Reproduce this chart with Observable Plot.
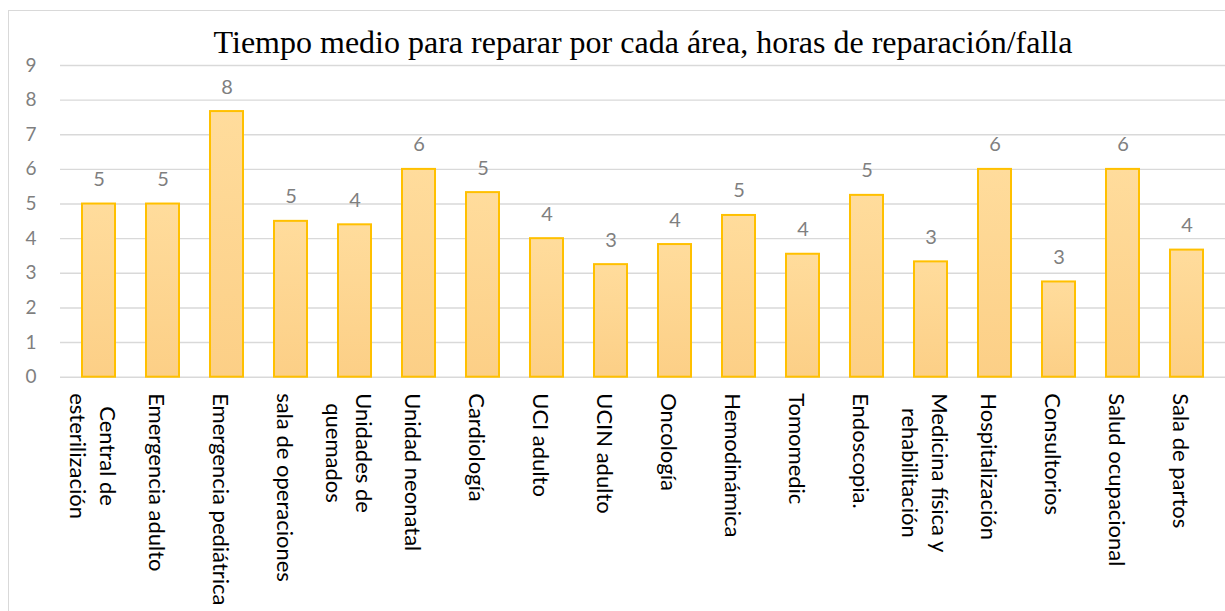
<!DOCTYPE html>
<html><head><meta charset="utf-8">
<script src="https://cdn.jsdelivr.net/npm/d3@7"></script>
<script src="https://cdn.jsdelivr.net/npm/@observablehq/plot@0.6"></script>
<style>
body{margin:0;background:#fff;width:1225px;height:611px;overflow:hidden;position:relative}
#frame{position:absolute;left:8px;top:10px;width:1300px;height:700px;border:1.5px solid #d9d9d9;box-sizing:border-box}
#title{position:relative;height:58px;box-sizing:border-box;padding-top:26px;padding-left:61px;text-align:center;font:32px/32px "Liberation Serif","Times New Roman",serif;color:#000;white-space:nowrap}
#chart{position:relative}
</style></head><body>
<div id="frame"></div>
<div id="title">Tiempo medio para reparar por cada área, horas de reparación/falla</div>
<div id="chart"></div>
<script>
const areas = [
  "Central de\nesterilización", "Emergencia adulto", "Emergencia pediátrica", "sala de operaciones",
  "Unidades de\nquemados", "Unidad neonatal", "Cardiología", "UCI adulto", "UCIN adulto",
  "Oncología", "Hemodinámica", "Tomomedic", "Endoscopia.", "Medicina física y\nrehabilitación",
  "Hospitalización", "Consultorios", "Salud ocupacional", "Sala de partos"
];
const values = [5.0, 5.0, 7.67, 4.5, 4.4, 6.0, 5.33, 4.0, 3.25, 3.83, 4.67, 3.55, 5.25, 3.33, 6.0, 2.75, 6.0, 3.67];
const yTicks = [0, 1, 2, 3, 4, 5, 6, 7, 8, 9];

const data = areas.map((a, i) => ({area: a, value: values[i]}));

const plot = Plot.plot({
  width: 1225, height: 553,
  marginTop: 7, marginBottom: 234.3, marginLeft: 60, marginRight: 0,
  style: {fontFamily: "Lato, sans-serif", background: "transparent", overflow: "visible"},
  x: {domain: areas, paddingInner: 0.49, paddingOuter: 0.245, label: null},
  y: {domain: [0, 9], ticks: yTicks, label: null},
  marks: [
    Plot.gridY(yTicks, {stroke: "#d9d9d9", strokeOpacity: 1, strokeWidth: 1.4}),
    Plot.barY(data, {x: "area", y: "value", fill: "url(#barGrad)", stroke: "#ffc000", strokeWidth: 2}),
    Plot.text(data, {x: "area", y: "value", text: d => String(Math.round(d.value)), lineAnchor: "bottom", dy: -18, fill: "#7f7f7f", fontSize: 20}),
    Plot.axisY({ticks: yTicks, tickSize: 0, tickPadding: 24, fontSize: 19, fill: "#7f7f7f", color: "#7f7f7f", label: null}),
    Plot.axisX({tickSize: 0, tickPadding: 16, tickRotate: 90, fontSize: 22, lineHeight: 1.36, dx: -4, fill: "#000", label: null})
  ]
});

d3.select(plot).insert("defs", ":first-child").html(
  '<linearGradient id="barGrad" x1="0" y1="0" x2="0" y2="1">' +
  '<stop offset="0" stop-color="#ffdc9c"/><stop offset="1" stop-color="#fccf86"/></linearGradient>'
);
document.getElementById("chart").appendChild(plot);

// center the lines of multi-line x labels within their block
d3.select(plot).selectAll("g[aria-label='x-axis tick label'] text").each(function() {
  const tspans = this.querySelectorAll("tspan");
  if (tspans.length < 2) return;
  let maxLen = 0;
  tspans.forEach(t => { maxLen = Math.max(maxLen, t.getComputedTextLength()); });
  this.setAttribute("text-anchor", "middle");
  tspans.forEach(t => t.setAttribute("x", maxLen / 2));
});
</script>
</body></html>
